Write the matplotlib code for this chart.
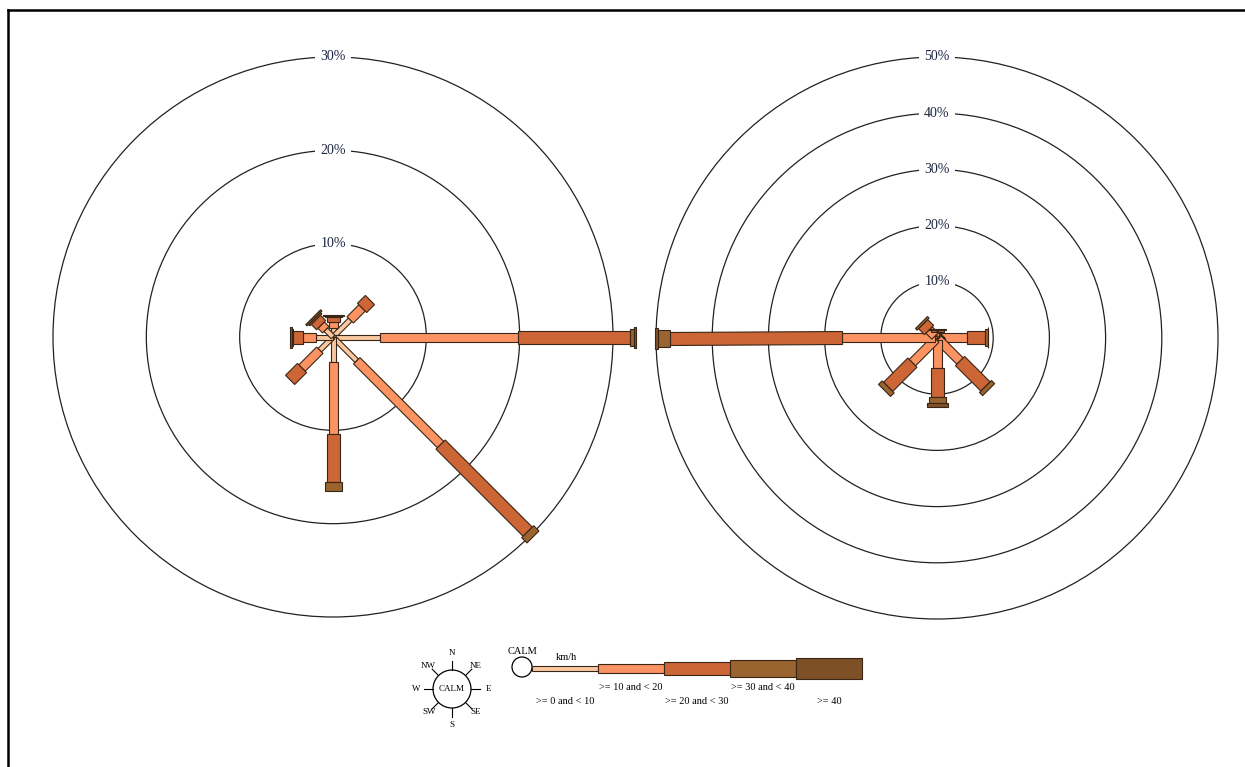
import numpy as np
import matplotlib
matplotlib.use("Agg")
import matplotlib.pyplot as plt
from matplotlib.patches import Polygon, Circle

plt.rcParams['font.family'] = ['Liberation Serif', 'DejaVu Serif']

# direction order and speed classes
directions = ['N', 'NE', 'E', 'SE', 'S', 'SW', 'W', 'NW']
bearings = [0, 45, 90, 135, 180, 225, 270, 315]
classes = ['>= 0 and < 10', '>= 10 and < 20', '>= 20 and < 30', '>= 30 and < 40', '>= 40']
colors = ['#f9c8a0', '#fb9462', '#cc6636', '#99642f', '#7e5026']
widths_px = [5, 9, 13, 17, 21]

# frequencies (%) per direction, one list per speed class
left_0_10 = [1.0, 2.6, 5.0, 3.6, 2.7, 2.0, 1.8, 1.1]
left_10_20 = [0.6, 1.8, 14.8, 12.7, 7.7, 2.7, 1.4, 0.7]
left_20_30 = [0.5, 1.2, 12.0, 13.2, 5.1, 1.8, 1.1, 0.8]
left_30_40 = [0.2, 0.0, 0.5, 0.8, 1.0, 0.0, 0.1, 0.2]
left_40 = [0.1, 0.0, 0.2, 0.0, 0.0, 0.0, 0.2, 0.2]

right_0_10 = [0.4, 0.3, 0.3, 0.3, 0.3, 0.3, 0.3, 0.5]
right_10_20 = [0.6, 0.5, 5.0, 5.5, 5.0, 5.9, 16.6, 1.5]
right_20_30 = [0.4, 0.2, 3.2, 6.4, 5.2, 6.1, 30.6, 1.5]
right_30_40 = [0.2, 0.0, 0.5, 0.8, 1.1, 0.9, 2.1, 0.4]
right_40 = [0.0, 0.0, 0.1, 0.0, 0.7, 0.0, 0.6, 0.0]

left_rings = [10, 20, 30]
right_rings = [10, 20, 30, 40, 50]

W, H = 1245, 767
fig = plt.figure(figsize=(W / 100, H / 100), dpi=100)
fig.patch.set_facecolor('white')

edge = '#3a2616'
label_color = '#1c2541'


def make_axes(cx, cy, ppu, half):
    # square axes centred on (cx, cy) pixels with ppu pixels per percent
    hp = half * ppu
    ax = fig.add_axes([(cx - hp) / W, (H - cy - hp) / H, 2 * hp / W, 2 * hp / H])
    ax.set_xlim(-half, half)
    ax.set_ylim(-half, half)
    ax.set_aspect('equal')
    ax.axis('off')
    return ax


def draw_rose(ax, ppu, rings, series):
    for r in rings:
        ax.add_patch(Circle((0, 0), r, fill=False, ec='#222222', lw=0.9, clip_on=False))
        ax.text(0, r, f'{r}%', ha='center', va='center', fontsize=10, color=label_color,
                bbox=dict(boxstyle='square,pad=0.35', fc='white', ec='none'), zorder=3)
    data = np.array(series)  # classes x directions
    for j, b in enumerate(bearings):
        a = np.radians(b)
        u = np.array([np.sin(a), np.cos(a)])
        p = np.array([np.cos(a), -np.sin(a)])
        start = 0.0
        for k in range(len(classes)):
            val = data[k, j]
            if val <= 0:
                continue
            end = start + val
            hw = widths_px[k] / 2 / ppu
            pts = [start * u + hw * p, end * u + hw * p, end * u - hw * p, start * u - hw * p]
            ax.add_patch(Polygon(pts, closed=True, fc=colors[k], ec=edge, lw=0.8,
                                 zorder=4 + k, clip_on=False))
            start = end


ppu_l = 280 / 30
ax_l = make_axes(333, 337, ppu_l, 33)
draw_rose(ax_l, ppu_l, left_rings, [left_0_10, left_10_20, left_20_30, left_30_40, left_40])

ppu_r = 281 / 50
ax_r = make_axes(937, 338, ppu_r, 54)
draw_rose(ax_r, ppu_r, right_rings, [right_0_10, right_10_20, right_20_30, right_30_40, right_40])

# legend and frame in pixel coordinates
lg = fig.add_axes([0, 0, 1, 1], zorder=-1)
lg.set_xlim(0, W)
lg.set_ylim(H, 0)
lg.axis('off')

lg.plot([8, W], [10, 10], color='black', lw=1.8, solid_capstyle='projecting')
lg.plot([8, 8], [10, H], color='black', lw=1.8, solid_capstyle='projecting')

# compass key
ccx, ccy, cr = 452, 689, 19
lg.add_patch(Circle((ccx, ccy), cr, fill=False, ec='black', lw=0.9))
lg.text(ccx, ccy, 'CALM', ha='center', va='center', fontsize=6.5)
for d, b in zip(directions, bearings):
    a = np.radians(b)
    dx, dy = np.sin(a), -np.cos(a)
    lg.plot([ccx + cr * dx, ccx + (cr + 9) * dx], [ccy + cr * dy, ccy + (cr + 9) * dy],
            color='black', lw=0.8)
    rl = 36 if b % 90 == 0 else 33
    lg.text(ccx + rl * dx, ccy + rl * dy, d, ha='center', va='center', fontsize=6.5)

# speed class key
lg.add_patch(Circle((522, 667), 10, fill=False, ec='black', lw=0.9))
lg.text(522, 652, 'CALM', ha='center', va='center', fontsize=7.5)
lg.text(566, 657, 'km/h', ha='center', va='center', fontsize=7.5)
x0, seg, ymid = 532, 66, 668.5
for k, (lab, col, wpx) in enumerate(zip(classes, colors, widths_px)):
    xs = x0 + k * seg
    lg.add_patch(plt.Rectangle((xs, ymid - wpx / 2), seg, wpx, fc=col, ec=edge, lw=0.8))
    ty = 687 if k % 2 == 1 else 701
    lg.text(xs + seg / 2, ty, lab, ha='center', va='center', fontsize=7.5)

fig.savefig('out.png', dpi=100, facecolor='white')
